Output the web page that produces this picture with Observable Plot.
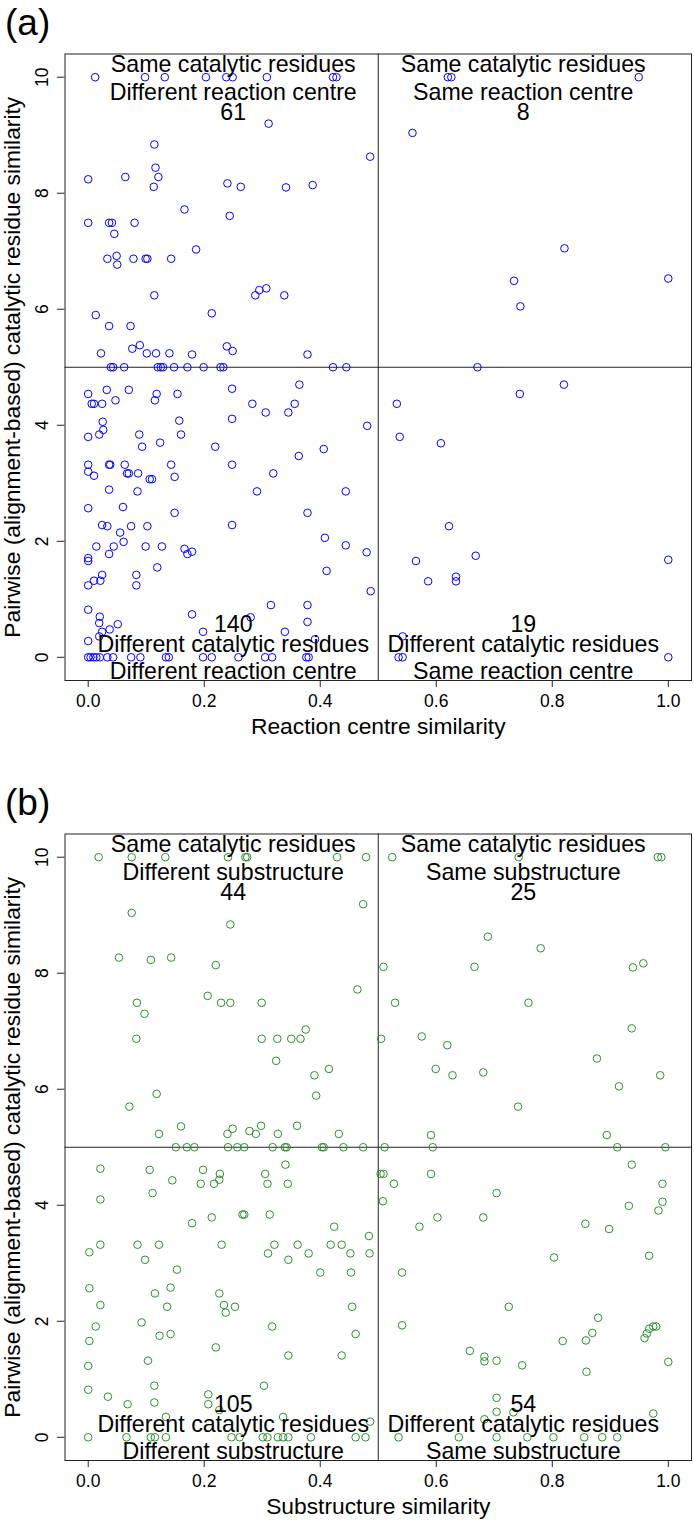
<!DOCTYPE html>
<html><head><meta charset="utf-8">
<script src="https://cdn.jsdelivr.net/npm/d3@7"></script>
<script src="https://cdn.jsdelivr.net/npm/@observablehq/plot@0.6"></script>
<style>body{margin:0;background:#fff;} #chart svg{display:block;}</style>
</head><body><div id="chart"></div>
<script>
const xTicks = [0, 0.2, 0.4, 0.6, 0.8, 1.0];
const yTicks = [0, 2, 4, 6, 8, 10];
const yLabel = "Pairwise (alignment-based) catalytic residue similarity";
const xLabelA = "Reaction centre similarity";
const xLabelB = "Substructure similarity";

const quadTextA = {
  topLeft: ["Same catalytic residues", "Different reaction centre", "61"],
  topRight: ["Same catalytic residues", "Same reaction centre", "8"],
  bottomLeft: ["140", "Different catalytic residues", "Different reaction centre"],
  bottomRight: ["19", "Different catalytic residues", "Same reaction centre"]
};
const quadTextB = {
  topLeft: ["Same catalytic residues", "Different substructure", "44"],
  topRight: ["Same catalytic residues", "Same substructure", "25"],
  bottomLeft: ["105", "Different catalytic residues", "Different substructure"],
  bottomRight: ["54", "Different catalytic residues", "Same substructure"]
};

// Panel (a): [reaction centre similarity, catalytic residue similarity]
const aTopLeft = [[0.012,10],[0.098,10],[0.132,10],[0.203,10],[0.238,10],[0.249,10],[0.308,10],[0.422,10],[0.428,10],
[0.311,9.20],[0.114,8.84],[0.486,8.63],[0.116,8.44],[0.0,8.24],[0.064,8.28],[0.121,8.28],[0.113,8.11],[0.240,8.17],[0.263,8.11],[0.341,8.10],[0.387,8.14],
[0.166,7.72],[0.244,7.61],[0.0,7.49],[0.036,7.49],[0.041,7.49],[0.080,7.49],[0.045,7.30],[0.186,7.03],
[0.033,6.87],[0.049,6.92],[0.050,6.77],[0.078,6.87],[0.099,6.87],[0.102,6.87],[0.143,6.87],
[0.114,6.24],[0.288,6.24],[0.295,6.33],[0.307,6.36],[0.338,6.24],
[0.013,5.90],[0.213,5.93],[0.036,5.71],[0.073,5.71],
[0.076,5.32],[0.089,5.38],[0.022,5.24],[0.101,5.24],[0.117,5.24],[0.140,5.24],[0.179,5.22],[0.239,5.36],[0.249,5.28],[0.378,5.22],
[0.039,5],[0.043,5],[0.062,5],[0.120,5],[0.125,5],[0.129,5],[0.148,5],[0.171,5],[0.199,5],[0.228,5],[0.233,5],[0.422,5],[0.445,5]];
const aTopRight = [[0.620,10],[0.626,10],[0.949,10],[0.559,9.04],[0.821,7.05],[0.734,6.49],[1.0,6.53],[0.745,6.05],[0.671,5.0]];
const aBottomLeft = [[0.0,4.54],[0.032,4.61],[0.070,4.61],[0.118,4.54],[0.154,4.54],[0.115,4.43],[0.047,4.43],[0.006,4.37],[0.010,4.37],[0.024,4.37],[0.248,4.63],[0.364,4.70],[0.283,4.37],[0.306,4.22],[0.345,4.22],[0.356,4.37],[0.481,3.99],
[0.025,4.06],[0.026,3.92],[0.019,3.84],[0.0,3.80],[0.157,4.08],[0.160,3.84],[0.248,4.11],[0.088,3.84],[0.093,3.63],[0.124,3.70],[0.219,3.63],[0.406,3.59],[0.363,3.47],
[0.0,3.32],[0.0,3.20],[0.010,3.13],[0.036,3.32],[0.038,3.32],[0.063,3.32],[0.067,3.17],[0.070,3.17],[0.086,3.17],[0.143,3.32],[0.149,3.11],[0.106,3.07],[0.110,3.07],[0.248,3.32],[0.319,3.17],
[0.036,2.89],[0.085,2.86],[0.291,2.86],[0.444,2.86],[0.0,2.57],[0.060,2.59],[0.149,2.49],[0.378,2.49],
[0.024,2.28],[0.033,2.26],[0.074,2.26],[0.102,2.26],[0.248,2.28],[0.055,2.15],[0.061,1.99],
[0.014,1.91],[0.044,1.91],[0.099,1.91],[0.127,1.91],[0.166,1.87],[0.171,1.78],[0.179,1.82],[0.036,1.78],[0.0,1.71],[0.0,1.66],[0.119,1.55],[0.083,1.42],[0.083,1.24],[0.024,1.42],[0.010,1.32],[0.021,1.32],[0.0,1.24],
[0.408,2.06],[0.444,1.93],[0.480,1.81],[0.411,1.49],[0.487,1.14],
[0.0,0.82],[0.315,0.90],[0.378,0.90],[0.179,0.74],[0.280,0.69],[0.020,0.70],[0.019,0.59],[0.051,0.57],[0.037,0.48],[0.024,0.44],[0.378,0.61],[0.198,0.44],[0.339,0.44],[0.019,0.36],[0.0,0.28],[0.391,0.31],
[0.0,0],[0.004,0],[0.009,0],[0.014,0],[0.020,0],[0.033,0],[0.043,0],[0.074,0],[0.090,0],[0.134,0],[0.139,0],[0.198,0],[0.213,0],[0.259,0],[0.305,0],[0.317,0],[0.376,0],[0.380,0]];
const aBottomRight = [[0.820,4.70],[0.744,4.54],[0.532,4.37],[0.537,3.80],[0.608,3.69],[0.622,2.26],[0.668,1.75],[0.565,1.66],[1.0,1.68],[0.586,1.31],[0.634,1.39],[0.634,1.31],[0.542,0.36],[0.535,0],[0.542,0],[1.0,0]];

// Panel (b): [substructure similarity, catalytic residue similarity]
const bTopLeft = [[0.018,10],[0.075,10],[0.133,10],[0.241,10],[0.271,10],[0.274,10],[0.429,10],[0.479,10],
[0.474,9.19],[0.075,9.04],[0.245,8.84],[0.053,8.27],[0.108,8.23],[0.143,8.27],[0.220,8.14],
[0.464,7.72],[0.206,7.61],[0.084,7.49],[0.229,7.49],[0.245,7.49],[0.299,7.49],[0.097,7.30],[0.375,7.03],
[0.083,6.87],[0.299,6.87],[0.326,6.87],[0.350,6.87],[0.366,6.87],
[0.324,6.49],[0.415,6.35],[0.390,6.24],
[0.118,5.92],[0.393,5.89],[0.071,5.70],
[0.160,5.36],[0.122,5.23],[0.240,5.23],[0.249,5.32],[0.278,5.28],[0.289,5.23],[0.298,5.37],[0.360,5.37],[0.327,5.23],[0.432,5.23],
[0.151,5],[0.170,5],[0.183,5],[0.241,5],[0.257,5],[0.269,5],[0.318,5],[0.339,5],[0.342,5],[0.403,5],[0.406,5],[0.440,5],[0.474,5]];
const bTopRight = [[0.524,10],[0.742,10],[0.982,10],[0.988,10],[0.689,8.63],[0.780,8.43],[0.509,8.11],[0.666,8.11],[0.939,8.10],[0.957,8.17],[0.529,7.49],[0.759,7.49],[0.937,7.05],[0.505,6.87],[0.575,6.91],[0.619,6.76],[0.877,6.53],[0.599,6.35],[0.628,6.24],[0.681,6.29],[0.986,6.24],[0.915,6.05],[0.741,5.70],[0.591,5.21],[0.894,5.21],
[0.511,5],[0.594,5],[0.912,5],[0.995,5]];
const bBottomLeft = [[0.021,4.63],[0.106,4.61],[0.198,4.61],[0.227,4.54],[0.226,4.44],[0.217,4.37],[0.194,4.37],[0.145,4.43],[0.111,4.21],[0.021,4.10],[0.305,4.54],[0.309,4.37],[0.340,4.70],[0.344,4.37],
[0.179,3.69],[0.213,3.79],[0.266,3.84],[0.269,3.84],[0.313,3.84],[0.424,3.63],[0.484,3.47],
[0.002,3.19],[0.021,3.32],[0.085,3.32],[0.122,3.32],[0.098,3.06],[0.230,3.32],[0.310,3.17],[0.321,3.32],[0.345,3.06],[0.361,3.32],[0.380,3.17],[0.418,3.32],[0.437,3.32],[0.452,3.17],[0.485,3.17],
[0.153,2.89],[0.400,2.84],[0.453,2.84],[0.002,2.57],[0.115,2.48],[0.142,2.58],[0.226,2.48],
[0.021,2.28],[0.136,2.25],[0.234,2.28],[0.237,2.15],[0.253,2.25],[0.455,2.25],
[0.092,1.98],[0.013,1.91],[0.317,1.91],[0.002,1.66],[0.123,1.75],[0.142,1.78],[0.220,1.55],[0.461,1.78],[0.345,1.41],[0.437,1.41],[0.0,1.23],[0.103,1.32],
[0.0,0.82],[0.114,0.89],[0.303,0.89],[0.034,0.70],[0.068,0.57],[0.114,0.60],[0.207,0.74],[0.207,0.57],[0.226,0.47],[0.134,0.35],[0.336,0.35],[0.486,0.27],
[0.0,0],[0.066,0],[0.108,0],[0.115,0],[0.134,0],[0.247,0],[0.261,0],[0.301,0],[0.309,0],[0.327,0],[0.336,0],[0.345,0],[0.384,0],[0.461,0],[0.478,0]];
const bBottomRight = [[0.504,4.54],[0.509,4.54],[0.527,4.37],[0.704,4.21],[0.508,4.07],[0.591,4.54],[0.602,3.79],[0.571,3.63],[0.681,3.79],[0.937,4.70],[0.990,4.37],[0.932,3.99],[0.990,4.06],[0.983,3.91],[0.857,3.68],[0.898,3.59],[0.803,3.10],[0.967,3.13],[0.541,2.84],[0.725,2.25],[0.879,2.06],[0.541,1.93],[0.869,1.80],[0.818,1.66],[0.858,1.67],[0.959,1.71],[0.963,1.79],[0.967,1.87],[0.974,1.91],[0.979,1.91],[0.658,1.49],[0.683,1.39],[0.683,1.31],[0.704,1.32],[0.748,1.24],[1.0,1.30],[0.859,1.13],[0.704,0.68],[0.704,0.44],[0.733,0.43],[0.683,0.31],[0.974,0.41],
[0.535,0],[0.639,0],[0.704,0],[0.757,0],[0.802,0],[0.855,0],[0.886,0],[0.912,0]];

const FONT = "'Liberation Sans', Arial, Helvetica, sans-serif";
const FRAME_BOTTOM = 680;

function quadLabels(q) {
  const topY = [10.086, 9.61, 9.266];
  const botY = [0.431, 0.086, -0.372];
  const rows = [];
  q.topLeft.forEach((t, i) => rows.push({x: 0.25, y: topY[i], t}));
  q.topRight.forEach((t, i) => rows.push({x: 0.75, y: topY[i], t}));
  q.bottomLeft.forEach((t, i) => rows.push({x: 0.25, y: botY[i], t}));
  q.bottomRight.forEach((t, i) => rows.push({x: 0.75, y: botY[i], t}));
  return rows;
}

function panel({tag, xLabel, points, color, quad, height}) {
  return Plot.plot({
    width: 694, height,
    marginLeft: 64.5, marginRight: 3, marginTop: 53.5, marginBottom: height - FRAME_BOTTOM,
    x: {domain: [-0.04, 1.04]},
    y: {domain: [-0.4, 10.4]},
    style: {fontFamily: FONT, fontSize: "17.5px", color: "#000", background: "#fff", overflow: "visible"},
    marks: [
      Plot.axisX(xTicks, {tickSize: 7, tickPadding: 7.3, tickFormat: d => d.toFixed(1), label: null, stroke: "#222", fill: "#000"}),
      Plot.axisY(yTicks, {tickSize: 7.6, tickPadding: 9.2, tickRotate: -90, tickFormat: d => String(d), label: null, stroke: "#222", fill: "#000"}),
      Plot.ruleX([0.5], {stroke: "#222", strokeWidth: 1}),
      Plot.ruleY([5], {stroke: "#222", strokeWidth: 1}),
      Plot.dot(points, {x: d => d[0], y: d => d[1], r: 3.8, stroke: color, strokeWidth: 1, fill: "none"}),
      Plot.text(quadLabels(quad), {x: "x", y: "y", text: "t", fontSize: 23.2, lineAnchor: "bottom", fill: "#000"}),
      Plot.frame({stroke: "#222", strokeWidth: 1}),
      Plot.text([xLabel], {text: d => d, frameAnchor: "bottom", dy: 53.3, lineAnchor: "bottom", fontSize: 22.8, fill: "#000"}),
      Plot.text([yLabel], {text: d => d, frameAnchor: "left", dx: -45, rotate: -90, textAnchor: "middle", lineAnchor: "bottom", fontSize: 22.8, fill: "#000"}),
      Plot.text([tag], {text: d => d, frameAnchor: "top-left", dx: -60, dy: -19.5, lineAnchor: "bottom", textAnchor: "start", fontSize: 37, fill: "#000"})
    ]
  });
}

const chart = document.getElementById("chart");
chart.append(panel({tag: "(a)", xLabel: xLabelA, points: [...aTopLeft, ...aTopRight, ...aBottomLeft, ...aBottomRight], color: "#0000ff", quad: quadTextA, height: 780}));
chart.append(panel({tag: "(b)", xLabel: xLabelB, points: [...bTopLeft, ...bTopRight, ...bBottomLeft, ...bBottomRight], color: "#2a912a", quad: quadTextB, height: 741}));
</script>
</body></html>
